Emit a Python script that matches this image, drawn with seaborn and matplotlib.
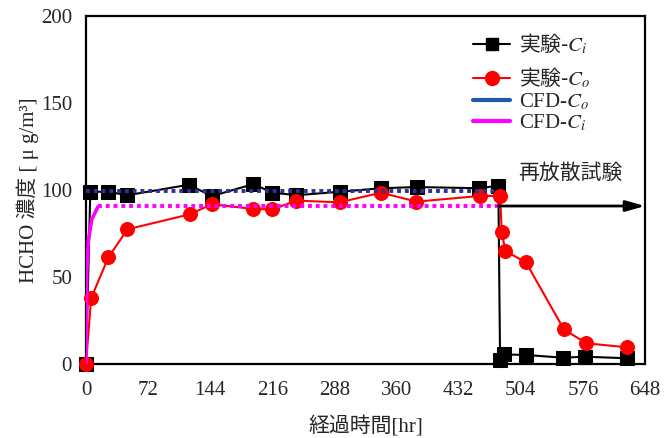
import matplotlib
matplotlib.use("Agg")
import matplotlib.pyplot as plt
from matplotlib.lines import Line2D
from matplotlib.ticker import MultipleLocator
import seaborn as sns
import pandas as pd

# Measured formaldehyde concentrations (inlet C_i / outlet C_o)
ci_hr = [0, 5, 25, 48, 119, 146, 194, 216, 244, 294, 342, 384, 456, 478, 480, 484, 510, 553, 578, 627]
ci_val = [0, 99, 99, 97, 103, 96.5, 103.4, 98.5, 97, 99, 101, 101.7, 101, 102.5, 2.3, 5.5, 5.2, 3.6, 4.2, 3.3]

co_hr = [0, 6, 26, 48, 120, 146, 194, 216, 244, 294, 342, 383, 457, 480, 482, 486, 510, 554, 580, 627]
co_val = [0, 38, 61.3, 77.4, 86, 91.8, 89.1, 88.9, 93.9, 92.9, 98.5, 93.3, 96.6, 96.6, 76, 65, 58.4, 19.9, 11.9, 9.6]

# CFD results
cfd_co_hr = [0, 478]
cfd_co_val = [99.5, 99.5]
cfd_ci_rise_hr = [0, 0.3, 1, 2.7, 6.6, 14]
cfd_ci_rise_val = [0, 25, 54, 71, 83, 90.5]
cfd_ci_flat_hr = [14, 480]
cfd_ci_flat_val = [91, 91]

x_ticks = list(range(0, 649, 72))
y_ticks = [0, 50, 100, 150, 200]

legend_labels = ["実験-$C_i$", "実験-$C_o$", "CFD-$C_o$", "CFD-$C_i$"]
rerelease_label = "再放散試験"
rerelease_start = 478
rerelease_level = 90.8

sns.set_style("white")
plt.rcParams["font.family"] = ["Liberation Serif", "Noto Sans CJK JP"]
plt.rcParams["mathtext.fontset"] = "stix"

fig = plt.figure(figsize=(6.67, 4.38), dpi=100)
ax = fig.add_axes([86 / 667, 1 - 364 / 438, (645 - 86) / 667, (364 - 16) / 438])

df_ci = pd.DataFrame({"hr": ci_hr, "val": ci_val})
df_co = pd.DataFrame({"hr": co_hr, "val": co_val})

sns.lineplot(data=df_ci, x="hr", y="val", ax=ax, color="black", lw=1.5,
             marker="s", markersize=10, markeredgecolor="black",
             estimator=None, sort=False, zorder=3, clip_on=False)
sns.lineplot(data=df_co, x="hr", y="val", ax=ax, color="red", lw=1.5,
             marker="o", markersize=10, markeredgecolor="red",
             estimator=None, sort=False, zorder=3, clip_on=False)

dot = (0, (1, 1))
sns.lineplot(x=cfd_co_hr, y=cfd_co_val, ax=ax, color="#2E3192", lw=2.8,
             linestyle=dot, estimator=None, sort=False, zorder=4)
sns.lineplot(x=cfd_ci_rise_hr, y=cfd_ci_rise_val, ax=ax, color="#FF00FF", lw=2.6,
             estimator=None, sort=False, zorder=4)
sns.lineplot(x=cfd_ci_flat_hr, y=cfd_ci_flat_val, ax=ax, color="#FF00FF", lw=2.8,
             linestyle=dot, estimator=None, sort=False, zorder=4)

# Re-release test arrow
ax.annotate("", xy=(648, rerelease_level), xytext=(rerelease_start, rerelease_level),
            arrowprops=dict(arrowstyle="-|>,head_length=0.6,head_width=0.17",
                            color="black", lw=2, mutation_scale=19,
                            shrinkA=0, shrinkB=0), zorder=5)
ax.text(561, 110, rerelease_label, fontsize=15, ha="center", va="center",
        family="Noto Sans CJK JP")

ax.set_xlim(0, 648)
ax.set_ylim(0, 200)
ax.set_xticks(x_ticks)
ax.set_yticks(y_ticks)
ax.xaxis.set_minor_locator(MultipleLocator(36))
ax.yaxis.set_minor_locator(MultipleLocator(25))
ax.tick_params(axis="both", which="major", direction="in", length=9, width=1,
               labelsize=15, color="black")
ax.tick_params(axis="both", which="minor", direction="in", length=5, width=1,
               color="black")
ax.tick_params(axis="x", which="both", pad=12)
ax.tick_params(axis="y", which="both", pad=10)
for s in ax.spines.values():
    s.set_color("black")
    s.set_linewidth(1.6)

ax.set_xlabel("経過時間[hr]", fontsize=15, labelpad=12)
ax.set_ylabel("HCHO 濃度 [ μ g/m³]", fontsize=15, labelpad=1)

# Legend: measured entries
h_ci = Line2D([], [], color="black", marker="s", markersize=9, lw=1.5)
h_co = Line2D([], [], color="red", marker="o", markersize=10, lw=1.5)
leg1 = ax.legend([h_ci, h_co], legend_labels[:2], loc="upper left",
                 bbox_to_anchor=(0.692, 0.955), frameon=False, fontsize=15,
                 handlelength=1.8, handletextpad=0.4, labelspacing=0.45,
                 borderpad=0, borderaxespad=0)
for t in leg1.get_texts():
    t.set_fontfamily("Noto Sans CJK JP")
ax.add_artist(leg1)

# Legend: CFD entries
h_cfd_co = Line2D([], [], color="#1F5AA6", lw=3)
h_cfd_ci = Line2D([], [], color="#FF00FF", lw=3)
leg2 = ax.legend([h_cfd_co, h_cfd_ci], legend_labels[2:], loc="upper left",
                 bbox_to_anchor=(0.692, 0.783), frameon=False, fontsize=15,
                 handlelength=1.8, handletextpad=0.4, labelspacing=0.0,
                 borderpad=0, borderaxespad=0)
for t in leg2.get_texts():
    t.set_fontfamily("Liberation Serif")

fig.savefig("out.png", dpi=100)
